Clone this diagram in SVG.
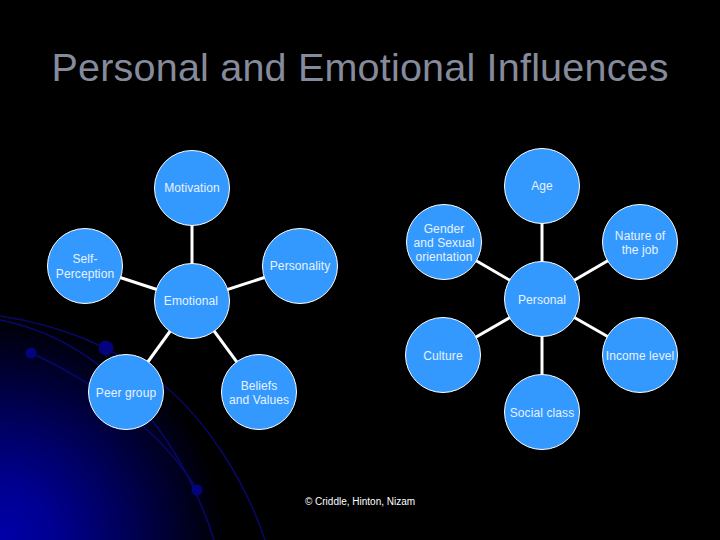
<svg xmlns="http://www.w3.org/2000/svg" width="720" height="540" viewBox="0 0 720 540">
<style>
.n{fill:#3399ff;stroke:#fff;stroke-width:1}
.c line{stroke:#fff;stroke-width:3}
.t{font-family:"Liberation Sans",Arial,sans-serif;font-size:12px;fill:#e8f2ff;text-anchor:middle;letter-spacing:.1px}
.a{fill:none;stroke:#08086a;stroke-width:1.5}
.d{fill:#03037c}
</style>
<defs>
<radialGradient id="g" gradientUnits="userSpaceOnUse" cx="0" cy="540" r="225">
<stop offset="0" stop-color="#0000a8"/><stop offset=".25" stop-color="#000090"/><stop offset=".6" stop-color="#000050"/><stop offset="1" stop-color="#000"/>
</radialGradient>
</defs>
<rect width="720" height="540" fill="#000"/>
<rect x="0" y="310" width="240" height="230" fill="url(#g)"/>
<g id="background">
<path class="a" d="M0 316C60 325 110 345 160 382C205 418 245 480 265 540"/>
<path class="a" d="M0 320C60 332 110 365 150 418C175 448 200 495 214 540"/>
<path class="a" d="M31 353C80 375 115 400 145 428C170 450 185 470 198 491"/>
<circle class="d" cx="106" cy="348" r="7.5"/>
<circle class="d" cx="31" cy="353" r="5.5"/>
<circle class="d" cx="197" cy="490" r="5.5"/>
</g>
<text x="360" y="81" style="font-family:'Liberation Sans',Arial,sans-serif;font-size:39.5px;fill:#858b9b;text-anchor:middle" textLength="617" lengthAdjust="spacing">Personal and Emotional Influences</text>
<g id="connectors" class="c">
<line x1="192" y1="188" x2="192" y2="301"/>
<line x1="85" y1="266" x2="192" y2="301"/>
<line x1="300" y1="266" x2="192" y2="301"/>
<line x1="126" y1="392" x2="192" y2="301"/>
<line x1="259" y1="392" x2="192" y2="301"/>
<line x1="542" y1="186" x2="542" y2="412"/>
<line x1="444" y1="242" x2="542" y2="299"/>
<line x1="640" y1="242" x2="542" y2="299"/>
<line x1="443" y1="356" x2="542" y2="299"/>
<line x1="640" y1="355" x2="542" y2="299"/>
</g>
<g id="motivation"><circle class="n" cx="192" cy="188" r="37.5"/><text class="t" x="192" y="192">Motivation</text></g>
<g id="self-perception"><circle class="n" cx="85" cy="266" r="37.5"/><text class="t" x="85" y="263">Self-</text><text class="t" x="85" y="278">Perception</text></g>
<g id="personality"><circle class="n" cx="300" cy="266" r="37.5"/><text class="t" x="300" y="270">Personality</text></g>
<g id="emotional"><circle class="n" cx="192" cy="301" r="37.5"/><text class="t" x="191" y="305">Emotional</text></g>
<g id="peer-group"><circle class="n" cx="126" cy="392" r="37.5"/><text class="t" x="126" y="397">Peer group</text></g>
<g id="beliefs"><circle class="n" cx="259" cy="392" r="37.5"/><text class="t" x="259" y="390">Beliefs</text><text class="t" x="259" y="404">and Values</text></g>
<g id="age"><circle class="n" cx="542" cy="186" r="37.5"/><text class="t" x="542" y="190">Age</text></g>
<g id="gender"><circle class="n" cx="444" cy="242" r="37.5"/><text class="t" x="444" y="233">Gender</text><text class="t" x="444" y="247">and Sexual</text><text class="t" x="444" y="261">orientation</text></g>
<g id="nature"><circle class="n" cx="640" cy="242" r="37.5"/><text class="t" x="640" y="240">Nature of</text><text class="t" x="640" y="254">the job</text></g>
<g id="personal"><circle class="n" cx="542" cy="299" r="37.5"/><text class="t" x="542" y="304">Personal</text></g>
<g id="culture"><circle class="n" cx="443" cy="355" r="37.5"/><text class="t" x="443" y="360">Culture</text></g>
<g id="income"><circle class="n" cx="640" cy="355" r="37.5"/><text class="t" x="640" y="360">Income level</text></g>
<g id="social"><circle class="n" cx="542" cy="412" r="37.5"/><text class="t" x="542" y="417">Social class</text></g>
<text x="360" y="505" style="font-family:'Liberation Sans',Arial,sans-serif;font-size:10px;fill:#fff;text-anchor:middle">© Criddle, Hinton, Nizam</text>
</svg>
